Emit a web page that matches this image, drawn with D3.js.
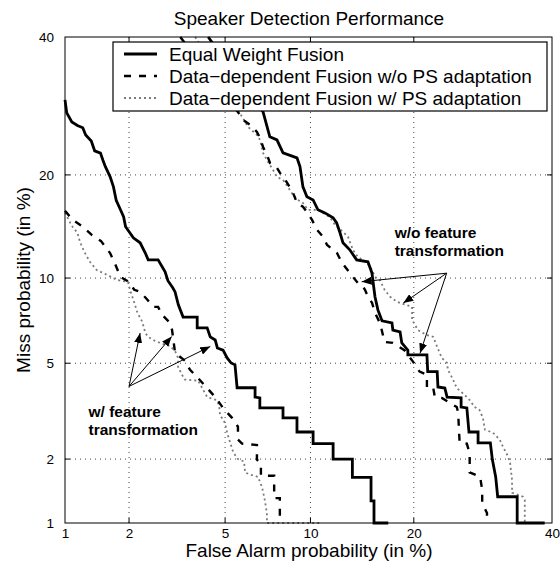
<!DOCTYPE html>
<html>
<head>
<meta charset="utf-8">
<script src="https://cdn.jsdelivr.net/npm/d3@7"></script>
<style>
  html, body { margin: 0; padding: 0; background: #fff; }
  svg { display: block; font-family: "Liberation Sans", Arial, Helvetica, sans-serif; }
</style>
</head>
<body>
<svg id="chart" width="560" height="565"></svg>
<script>
// Axis ticks, in percent (both axes use the same normal-deviate scale)
const tickValues = [1, 2, 5, 10, 20, 40];
const gridValues = [2, 5, 10, 20];

const legendNames = [
  'Equal Weight Fusion',
  'Data\u2212dependent Fusion w/o PS adaptation',
  'Data\u2212dependent Fusion w/ PS adaptation',
];

// DET curves: [false alarm %, miss %]
const equalWithFt = [
  [1.00, 30.1], [1.02, 28.2], [1.08, 26.9], [1.15, 26.4], [1.22, 26.1], [1.26, 25.1], [1.34, 24.3],
  [1.39, 23.0], [1.48, 22.7], [1.52, 21.8], [1.56, 21.0], [1.64, 19.8], [1.70, 18.6], [1.75, 17.1],
  [1.83, 16.1], [1.89, 15.4], [1.93, 14.4], [2.02, 13.8], [2.09, 13.35], [2.24, 12.9], [2.36, 12.0],
  [2.43, 11.43], [2.68, 11.43], [2.87, 10.47], [2.95, 9.8], [3.09, 9.29], [3.16, 9.0], [3.26, 8.14],
  [3.41, 7.38], [3.89, 7.38], [3.89, 6.76], [4.26, 6.76], [4.38, 6.27], [4.58, 6.11], [4.67, 5.71],
  [4.91, 5.6], [5.09, 5.24], [5.27, 5.01], [5.45, 4.93], [5.55, 4.01], [6.46, 4.01], [6.46, 3.68],
  [6.72, 3.65], [6.72, 3.32], [8.10, 3.32], [8.10, 3.02], [9.03, 3.02], [9.03, 2.63], [10.2, 2.63],
  [10.2, 2.34], [11.8, 2.34], [11.8, 2.0], [13.5, 2.0], [13.5, 1.65], [15.3, 1.65], [15.3, 1.28],
  [15.6, 1.28], [15.6, 1.0], [17.1, 1.0],
];
const noPsWithFt = [
  [1.00, 16.0], [1.09, 15.07], [1.22, 14.4], [1.35, 13.6], [1.49, 13.05], [1.64, 12.0], [1.73, 11.1],
  [1.83, 10.09], [2.0, 9.71], [2.11, 9.15], [2.24, 9.0], [2.41, 8.47], [2.55, 8.01], [2.68, 8.01],
  [2.79, 7.51], [3.01, 7.04], [3.07, 6.64], [3.16, 5.47], [3.47, 5.11], [3.64, 4.72], [3.92, 4.38],
  [4.26, 4.0], [4.62, 3.64], [4.91, 3.32], [5.31, 3.02], [5.59, 2.77], [5.59, 2.44], [5.79, 2.34],
  [6.56, 2.31], [6.56, 1.99], [6.78, 1.9], [6.78, 1.68], [7.55, 1.68], [7.55, 1.32], [7.9, 1.32],
  [7.9, 1.0],
];
const psWithFt = [
  [1.0, 15.8], [1.08, 14.48], [1.15, 13.82], [1.18, 13.05], [1.24, 12.11], [1.32, 11.27], [1.42, 10.62],
  [1.59, 10.24], [1.77, 9.85], [1.98, 9.71], [2.02, 9.15], [2.09, 8.47], [2.18, 7.64], [2.29, 7.1],
  [2.36, 6.48], [2.43, 6.27], [2.60, 6.06], [2.81, 5.91], [3.01, 5.8], [3.16, 5.56], [3.25, 5.24],
  [3.25, 4.85], [3.38, 4.5], [3.47, 4.32], [3.92, 4.28], [4.11, 3.93], [4.26, 3.68], [4.62, 3.58],
  [4.74, 3.42], [4.78, 3.11], [5.0, 2.87], [5.09, 2.61], [5.23, 2.36], [5.37, 2.14], [5.59, 2.0],
  [5.89, 1.95], [5.94, 1.74], [6.2, 1.7], [6.62, 1.66], [6.84, 1.49], [7.0, 1.29], [7.12, 1.12],
  [7.12, 1.0], [10.8, 1.0],
];
const equalNoFt = [
  [4.30, 40.0], [6.9, 28.35], [7.18, 25.8], [7.29, 24.85], [7.72, 24.44], [8.1, 22.73], [9.03, 22.1],
  [9.24, 21.0], [9.45, 18.6], [9.74, 17.49], [10.2, 17.15], [10.57, 16.1], [11.12, 15.78], [11.8, 15.28],
  [12.1, 14.77], [12.39, 13.82], [12.65, 12.9], [13.26, 12.28], [13.9, 11.43], [14.99, 11.27],
  [15.39, 10.39], [15.7, 8.67], [16.0, 7.82], [16.43, 7.16], [17.5, 7.04], [17.6, 6.64], [18.4, 6.54],
  [18.6, 5.96], [19.3, 5.6], [19.3, 5.38], [21.6, 5.38], [21.7, 4.64], [22.9, 4.64], [23.0, 4.04],
  [23.9, 4.0], [24.2, 3.68], [26.1, 3.65], [26.1, 3.35], [26.9, 3.32], [27.2, 2.63], [28.5, 2.63],
  [28.5, 2.36], [30.3, 2.36], [30.6, 1.99], [31.1, 1.66], [31.4, 1.34], [34.4, 1.34], [34.4, 1.0],
  [38.8, 1.0],
];
const noPsNoFt = [
  [3.32, 40], [5.69, 27.92], [5.84, 27.2], [6.2, 26.49], [6.56, 25.53], [6.73, 24.7], [6.9, 23.5],
  [7.13, 22.47], [7.3, 21.46], [7.72, 20.85], [7.91, 20.25], [8.36, 19.1], [8.76, 17.93], [9.03, 16.83],
  [9.45, 16.42], [9.74, 15.88], [10.12, 15.07], [10.5, 14.1], [10.97, 13.45], [11.3, 12.71],
  [12.13, 12.0], [12.56, 11.19], [13.28, 10.37], [14.0, 9.64], [14.4, 9.5], [14.7, 9.15], [15.0, 8.67],
  [15.4, 8.27], [15.7, 7.64], [16.2, 7.04], [16.4, 6.64], [16.7, 6.01], [17.6, 5.96], [18.9, 5.6],
  [19.9, 5.07], [20.7, 4.64], [21.6, 4.51], [21.6, 4.0], [22.4, 4.0], [22.6, 3.68], [23.5, 3.65],
  [25.5, 3.35], [25.7, 3.17], [25.8, 2.69], [25.9, 2.36], [26.9, 2.34], [27.3, 2.12], [27.3, 1.74],
  [28.8, 1.66], [29.1, 1.44], [29.1, 1.25], [29.8, 1.12], [29.8, 1.0],
];
const psNoFt = [
  [3.82, 40], [5.79, 27.63], [6.09, 26.22], [6.56, 25.1], [6.73, 24.44], [6.9, 22.73], [7.18, 21.59],
  [7.48, 20.61], [7.72, 19.77], [8.1, 19.4], [8.42, 18.6], [8.76, 17.7], [9.1, 17.15], [9.45, 16.83],
  [9.82, 16.1], [10.57, 16.1], [10.97, 15.78], [11.53, 15.35], [11.96, 14.58], [12.65, 13.91],
  [13.1, 13.45], [13.55, 12.28], [14.0, 11.68], [14.9, 11.19], [15.4, 10.62], [15.7, 10.09],
  [16.2, 9.85], [16.7, 9.15], [17.3, 8.67], [18.05, 8.34], [18.7, 8.2], [19.8, 8.01], [19.8, 7.21],
  [20.5, 6.64], [21.6, 6.36], [22.4, 6.27], [22.9, 5.76], [23.5, 5.24], [24.2, 5.01], [24.3, 4.72],
  [24.9, 4.38], [25.5, 4.0], [26.6, 3.75], [27.3, 3.58], [28.0, 3.35], [28.7, 3.26], [29.2, 3.02],
  [29.5, 2.69], [30.7, 2.61], [31.7, 2.44], [32.2, 2.27], [33.0, 2.05], [33.3, 1.92], [33.6, 1.61],
  [33.6, 1.4], [35.3, 1.34], [35.6, 1.29], [35.6, 1.0], [39.0, 1.0],
];

// Annotation arrows: [false alarm %, miss %]
const withFtArrowFrom = [2.0, 4.06];
const withFtArrowTo = [[2.24, 6.48], [3.06, 6.29], [4.38, 5.78]];
const noFtArrowFrom = [24.14, 10.37];
const noFtArrowTo = [[14.38, 9.73], [18.77, 8.25], [20.75, 5.45]];
const withFtLabel = { at: [1.3, 3.05], lines: ['w/ feature', 'transformation'] };
const noFtLabel = { at: [17.8, 13.35], lines: ['w/o feature', 'transformation'] };

// Inverse normal CDF (Acklam's approximation), used for the DET axes
const probit = (p) => {
  const a = [-39.69683028665376, 220.9460984245205, -275.9285104469687, 138.3577518672690, -30.66479806614716, 2.506628277459239];
  const b = [-54.47609879822406, 161.5858368580409, -155.6989798598866, 66.80131188771972, -13.28068155288572];
  const c = [-0.007784894002430293, -0.3223964580411365, -2.400758277161838, -2.549732539343734, 4.374664141464968, 2.938163982698783];
  const d = [0.007784695709041462, 0.3224671290700398, 2.445134137142996, 3.754408661907416];
  const pLow = 0.02425;
  if (p < pLow) {
    const q = Math.sqrt(-2 * Math.log(p));
    return (((((c[0] * q + c[1]) * q + c[2]) * q + c[3]) * q + c[4]) * q + c[5]) /
      ((((d[0] * q + d[1]) * q + d[2]) * q + d[3]) * q + 1);
  }
  if (p > 1 - pLow) return -probit(1 - p);
  const q = p - 0.5;
  const r = q * q;
  return (((((a[0] * r + a[1]) * r + a[2]) * r + a[3]) * r + a[4]) * r + a[5]) * q /
    (((((b[0] * r + b[1]) * r + b[2]) * r + b[3]) * r + b[4]) * r + 1);
};

const svg = d3.select('#chart');
const plotLeft = 65, plotRight = 552, plotTop = 37, plotBottom = 523;

const domain = [probit(0.01), probit(0.40)];
const xLin = d3.scaleLinear().domain(domain).range([plotLeft, plotRight]);
const yLin = d3.scaleLinear().domain(domain).range([plotBottom, plotTop]);
const x = (v) => xLin(probit(v / 100));
const y = (v) => yLin(probit(v / 100));

// Grid lines
const grid = svg.append('g').attr('stroke', '#444').attr('stroke-width', 1).attr('stroke-dasharray', '1,4');
gridValues.forEach((v) => {
  grid.append('line').attr('x1', x(v)).attr('x2', x(v)).attr('y1', plotTop).attr('y2', plotBottom);
  grid.append('line').attr('x1', plotLeft).attr('x2', plotRight).attr('y1', y(v)).attr('y2', y(v));
});

// Curves
svg.append('clipPath').attr('id', 'plot-clip')
  .append('rect').attr('x', plotLeft - 3).attr('y', plotTop - 3)
  .attr('width', plotRight - plotLeft + 6).attr('height', plotBottom - plotTop + 6);

const line = d3.line().x((d) => x(d[0])).y((d) => y(d[1]));
const styles = [
  { stroke: '#000', width: 2.8, dash: null },
  { stroke: '#000', width: 2.4, dash: '7,8' },
  { stroke: '#7a7a7a', width: 1.8, dash: '2,3' },
];
const curves = [
  [equalWithFt, 0], [noPsWithFt, 1], [psWithFt, 2],
  [equalNoFt, 0], [noPsNoFt, 1], [psNoFt, 2],
];
const curveG = svg.append('g').attr('clip-path', 'url(#plot-clip)');
// draw dotted first, solid last
[2, 1, 0].forEach((s) => {
  curves.filter((c) => c[1] === s).forEach(([data]) => {
    curveG.append('path')
      .attr('d', line(data))
      .attr('fill', 'none')
      .attr('stroke', styles[s].stroke)
      .attr('stroke-width', styles[s].width)
      .attr('stroke-dasharray', styles[s].dash)
      .attr('stroke-linejoin', 'miter');
  });
});

// Frame and inner ticks
svg.append('rect')
  .attr('x', plotLeft).attr('y', plotTop).attr('width', plotRight - plotLeft).attr('height', plotBottom - plotTop)
  .attr('fill', 'none').attr('stroke', '#000').attr('stroke-width', 1);
const ticks = svg.append('g').attr('stroke', '#000').attr('stroke-width', 1);
gridValues.forEach((v) => {
  ticks.append('line').attr('x1', x(v)).attr('x2', x(v)).attr('y1', plotBottom).attr('y2', plotBottom - 5);
  ticks.append('line').attr('x1', x(v)).attr('x2', x(v)).attr('y1', plotTop).attr('y2', plotTop + 5);
  ticks.append('line').attr('x1', plotLeft).attr('x2', plotLeft + 5).attr('y1', y(v)).attr('y2', y(v));
  ticks.append('line').attr('x1', plotRight).attr('x2', plotRight - 5).attr('y1', y(v)).attr('y2', y(v));
});

// Tick labels through d3 axes
const xAxis = d3.axisBottom(xLin)
  .tickValues(tickValues.map((v) => probit(v / 100)))
  .tickFormat((d, i) => tickValues[i])
  .tickSize(0).tickPadding(5);
const yAxis = d3.axisLeft(yLin)
  .tickValues(tickValues.map((v) => probit(v / 100)))
  .tickFormat((d, i) => tickValues[i])
  .tickSize(0).tickPadding(11);
const gx = svg.append('g').attr('transform', `translate(0,${plotBottom})`).call(xAxis);
const gy = svg.append('g').attr('transform', `translate(${plotLeft},0)`).call(yAxis);
[gx, gy].forEach((g) => {
  g.select('.domain').remove();
  g.selectAll('text').attr('font-size', 13.5).attr('fill', '#000')
    .attr('font-family', '"Liberation Sans", Arial, sans-serif');
});

// Title and axis labels
svg.append('text').attr('x', 309).attr('y', 25).attr('text-anchor', 'middle')
  .attr('font-size', 19).text('Speaker Detection Performance');
svg.append('text').attr('x', 309).attr('y', 557).attr('text-anchor', 'middle')
  .attr('font-size', 19).text('False Alarm probability (in %)');
svg.append('text').attr('transform', `translate(30,${(plotTop + plotBottom) / 2}) rotate(-90)`)
  .attr('text-anchor', 'middle').attr('font-size', 19).text('Miss probability (in %)');

// Legend
const legend = svg.append('g');
legend.append('rect').attr('x', 113).attr('y', 42).attr('width', 434).attr('height', 69)
  .attr('fill', '#fff').attr('stroke', '#000').attr('stroke-width', 1.2);
legendNames.forEach((name, i) => {
  const cy = 54 + i * 22;
  legend.append('line').attr('x1', 124).attr('x2', 157).attr('y1', cy).attr('y2', cy)
    .attr('stroke', styles[i].stroke).attr('stroke-width', styles[i].width)
    .attr('stroke-dasharray', styles[i].dash);
  legend.append('text').attr('x', 169).attr('y', cy + 7).attr('font-size', 19).text(name);
});

// Annotations
svg.append('defs').append('marker')
  .attr('id', 'arrow').attr('markerUnits', 'userSpaceOnUse')
  .attr('markerWidth', 11).attr('markerHeight', 8).attr('refX', 10).attr('refY', 4)
  .attr('orient', 'auto')
  .append('path').attr('d', 'M0,0 L10,4 L0,8 Z').attr('fill', '#000');

const drawArrows = (from, targets) => {
  targets.forEach((t) => {
    svg.append('line')
      .attr('x1', x(from[0])).attr('y1', y(from[1]))
      .attr('x2', x(t[0])).attr('y2', y(t[1]))
      .attr('stroke', '#000').attr('stroke-width', 1)
      .attr('marker-end', 'url(#arrow)');
  });
};
drawArrows(withFtArrowFrom, withFtArrowTo);
drawArrows(noFtArrowFrom, noFtArrowTo);

[withFtLabel, noFtLabel].forEach((lab) => {
  const t = svg.append('text').attr('font-size', 15.5).attr('font-weight', 'bold');
  lab.lines.forEach((s, i) => {
    t.append('tspan').attr('x', x(lab.at[0])).attr('y', y(lab.at[1]) + i * 18.5).text(s);
  });
});
</script>
</body>
</html>
